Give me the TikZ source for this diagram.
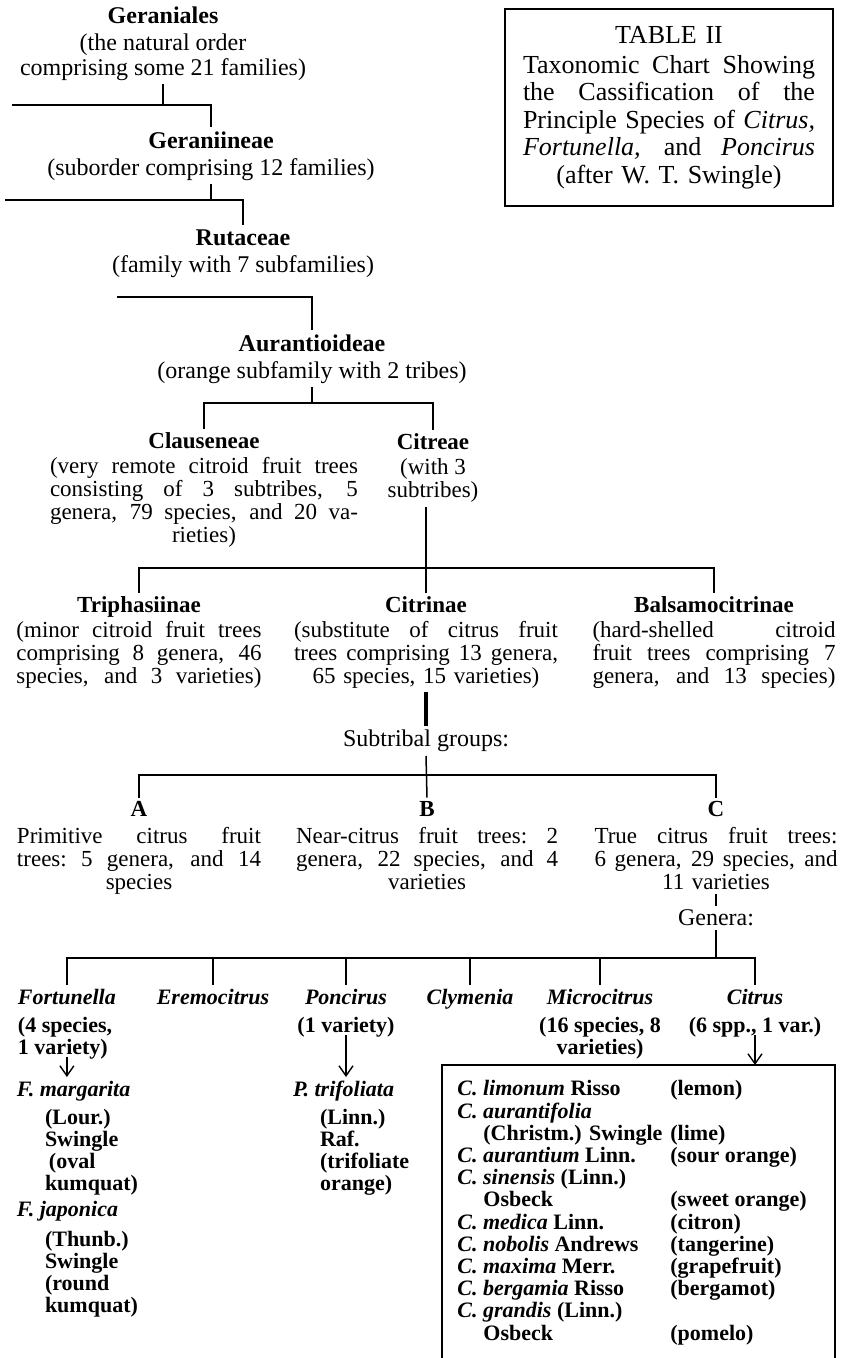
\documentclass[tikz,border=0pt]{standalone}
\usepackage{fontspec}
\setmainfont{Liberation Serif}
\usetikzlibrary{arrows.meta,positioning}

% one justified line of a description
\newcommand{\jl}[1]{\makebox[\hsize][s]{\spaceskip=.25em plus 10em\relax\xspaceskip=\spaceskip #1}}

\begin{document}
\begin{tikzpicture}[
  x=0.5pt,y=-0.5pt,
  taxon/.style={anchor=north,align=center,inner sep=0pt,outer sep=2pt,font=\fontsize{12}{12.5}\selectfont},
  tribe/.style={taxon,font=\fontsize{11.5}{11.5}\selectfont},
  genus/.style={anchor=north,align=center,inner sep=0pt,outer sep=2pt,font=\fontsize{11}{11}\selectfont\bfseries},
  titlebox/.style={draw,line width=1.2pt,anchor=north,align=center,text width=146pt,inner xsep=9pt,minimum height=98.5pt,font=\fontsize{13}{13.75}\selectfont},
  spbox/.style={draw,line width=1pt,anchor=north west,inner sep=0pt,outer sep=0pt,minimum width=196.5pt,minimum height=160pt},
  link/.style={line width=0.75pt},
  heavy link/.style={line width=1.6pt},
  arr/.style={-{Straight Barb[length=5pt,width=7pt]},line width=0.7pt,shorten <=-3pt}
]
\useasboundingbox (0,0) rectangle (841,1358);

% title
\node[titlebox] (title) at (669,8) {TABLE II\\[1pt]
  \jl{Taxonomic Chart Showing}\\
  \jl{the Cassification of the}\\
  \jl{Principle Species of \textit{Citrus,}}\\
  \jl{\textit{Fortunella,} and \textit{Poncirus}}\\
  (after W. T. Swingle)};

% order down to subfamily
\node[taxon] (order) at (163,2.5) {\textbf{Geraniales}\\[1pt](the natural order\\comprising some 21 families)};
\node[taxon] (suborder) at (211,127.5) {\textbf{Geraniineae}\\[1pt](suborder comprising 12 families)};
\node[taxon] (family) at (243,225.5) {\textbf{Rutaceae}\\[1pt](family with 7 subfamilies)};
\node[taxon] (subfamily) at (312,330.5) {\textbf{Aurantioideae}\\[1pt](orange subfamily with 2 tribes)};

\coordinate (j1) at (12,105);
\coordinate (j2) at (5,200);
\coordinate (j3) at (117,297);
\coordinate (j4) at (0,403);
\draw[link] (order.south) -- (order.south |- j1);
\draw[link] (j1) -| (suborder.north);
\draw[link] (suborder.south) -- (suborder.south |- j2);
\draw[link] (j2) -| (family.north);
\draw[link] (j3) -| (subfamily.north);

% tribes
\node[tribe,text width=154pt] (clau) at (204,429) {\textbf{Clauseneae}\\[1pt]
  \jl{(very remote citroid fruit trees}\\
  \jl{consisting of 3 subtribes, 5}\\
  \jl{genera, 79 species, and 20 va-}\\
  rieties)};
\node[tribe] (citreae) at (433,430) {\textbf{Citreae}\\[1pt](with 3\\subtribes)};
\draw[link] (subfamily.south) -- (subfamily.south |- j4);
\draw[link] (clau.north) -- (clau.north |- j4) -- (citreae.north |- j4) -- (citreae.north);

% subtribes
\node[tribe,text width=122.5pt] (triph) at (139,592.5) {\textbf{Triphasiinae}\\[1pt]
  \jl{(minor citroid fruit trees}\\
  \jl{comprising 8 genera, 46}\\
  \jl{species, and 3 varieties)}};
\node[tribe,text width=132pt] (citrinae) at (426,592.5) {\textbf{Citrinae}\\[1pt]
  \jl{(substitute of citrus fruit}\\
  \jl{trees comprising 13 genera,}\\
  65 species, 15 varieties)};
\node[tribe,text width=121.5pt] (balsam) at (714,592.5) {\textbf{Balsamocitrinae}\\[1pt]
  \jl{(hard-shelled citroid}\\
  \jl{fruit trees comprising 7}\\
  \jl{genera, and 13 species)}};
\coordinate (j5) at (0,568);
\draw[link] (citreae.south -| citrinae.north) -- (citrinae.north);
\draw[link] (triph.north) -- (triph.north |- j5) -- (balsam.north |- j5) -- (balsam.north);

% subtribal groups
\node[taxon] (subtribal) at (426,726) {Subtribal groups:};
\draw[heavy link] (citrinae.south) -- (subtribal.north);
\node[tribe,text width=122pt] (grpA) at (139,797.5) {\textbf{A}\\[2pt]
  \jl{Primitive citrus fruit}\\
  \jl{trees: 5 genera, and 14}\\
  species};
\node[tribe,text width=131pt] (grpB) at (427,797.5) {\textbf{B}\\[2pt]
  \jl{Near-citrus fruit trees: 2}\\
  \jl{genera, 22 species, and 4}\\
  varieties};
\node[tribe,text width=121.5pt] (grpC) at (716,797.5) {\textbf{C}\\[2pt]
  \jl{True citrus fruit trees:}\\
  \jl{6 genera, 29 species, and}\\
  11 varieties};
\coordinate (j6) at (0,775);
\draw[link] (subtribal.south) -- (grpB.north);
\draw[link] (grpA.north) -- (grpA.north |- j6) -- (grpC.north |- j6) -- (grpC.north);

% genera
\node[taxon] (genera) at (716,906) {Genera:};
\draw[link] (grpC.south) -- (genera.north);
\node[genus,align=left,anchor=north west] (fortunella) at (14,985) {\textit{Fortunella}\\[3pt](4 species,\\1 variety)};
\node[genus] (eremo) at (213,985) {\textit{Eremocitrus}};
\node[genus] (poncirus) at (346,985) {\textit{Poncirus}\\[3pt](1 variety)};
\node[genus] (clymenia) at (470,985) {\textit{Clymenia}};
\node[genus] (micro) at (600,985) {\textit{Microcitrus}\\[3pt](16 species, 8\\varieties)};
\node[genus] (citrus) at (755,985) {\textit{Citrus}\\[3pt](6 spp., 1 var.)};
\coordinate (j7) at (0,958);
\draw[link] (genera.south) -- (genera.south |- j7);
\draw[link] (fortunella.north) -- (fortunella.north |- j7) -- (citrus.north |- j7) -- (citrus.north);
\foreach \g in {eremo,poncirus,clymenia,micro}
  \draw[link] (\g.north) -- (\g.north |- j7);

% species
\node[genus,align=left,anchor=north west] (fmarg) at (13,1077) {\textit{F. margarita}\\[3pt]
  \hspace*{14pt}(Lour.)\\
  \hspace*{14pt}Swingle\\
  \hspace*{16pt}(oval\\
  \hspace*{14pt}kumquat)};
\node[genus,align=left,anchor=north west] (fjap) at (13,1197) {\textit{F. japonica}\\[4pt]
  \hspace*{14pt}(Thunb.)\\
  \hspace*{14pt}Swingle\\
  \hspace*{14pt}(round\\
  \hspace*{14pt}kumquat)};
\node[genus,align=left,anchor=north west] (ptrif) at (289,1077) {\textit{P. trifoliata}\\[3pt]
  \hspace*{13.5pt}(Linn.)\\
  \hspace*{13.5pt}Raf.\\
  \hspace*{13.5pt}(trifoliate\\
  \hspace*{13.5pt}orange)};

\node[spbox] (spbox) at (442,1065) {};
\node[anchor=north west,inner sep=0pt,font=\fontsize{11}{11.1}\selectfont\bfseries] (splist) at ([shift={(15,15)}]spbox.north west) {%
  \begin{tabular}{@{}p{106.5pt}@{}l@{}}
  \textit{C. limonum} Risso & (lemon)\\
  \textit{C. aurantifolia} & \\
  \hspace*{13pt}(Christm.) Swingle & (lime)\\
  \textit{C. aurantium} Linn. & (sour orange)\\
  \textit{C. sinensis} (Linn.) & \\
  \hspace*{13pt}Osbeck & (sweet orange)\\
  \textit{C. medica} Linn. & (citron)\\
  \textit{C. nobolis} Andrews & (tangerine)\\
  \textit{C. maxima} Merr. & (grapefruit)\\
  \textit{C. bergamia} Risso & (bergamot)\\
  \textit{C. grandis} (Linn.) & \\
  \hspace*{13pt}Osbeck & (pomelo)
  \end{tabular}};

\draw[arr] (fortunella.south) -- (fortunella.south |- fmarg.north);
\draw[arr] (poncirus.south) -- (poncirus.south |- ptrif.north);
\draw[arr] (citrus.south) -- (citrus.south |- spbox.north);
\end{tikzpicture}
\end{document}
